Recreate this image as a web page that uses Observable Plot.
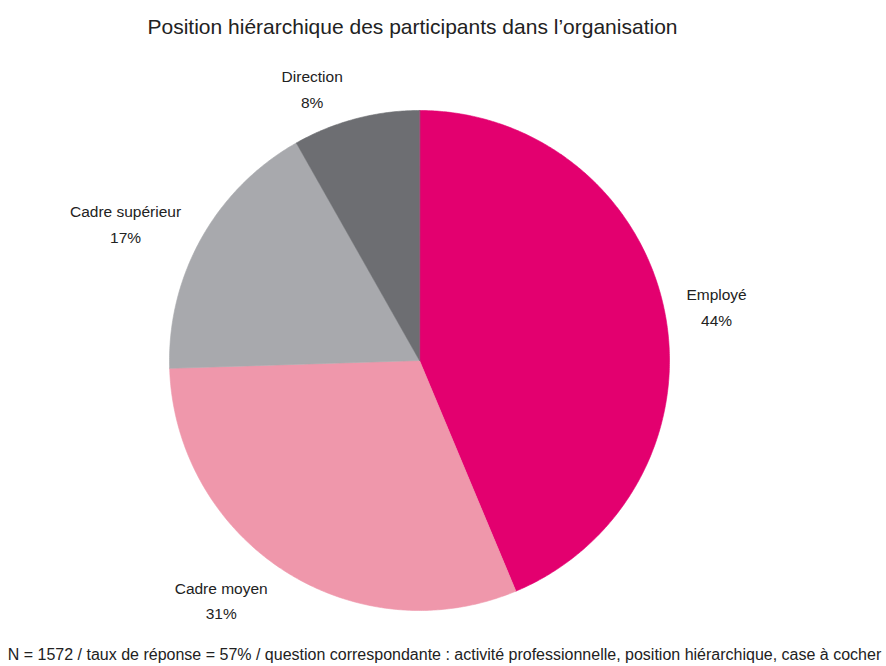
<!DOCTYPE html>
<html><head><meta charset="utf-8">
<script src="https://cdn.jsdelivr.net/npm/d3@7"></script>
<script src="https://cdn.jsdelivr.net/npm/@observablehq/plot@0.6"></script>
<style>
body{margin:0;background:#fff;font-family:"Liberation Sans",Arial,sans-serif;color:#222;}
#wrap{position:relative;width:886px;height:666px;overflow:hidden;}
#title{position:absolute;top:15px;left:0;width:825px;text-align:center;font-size:21px;}
#chart{position:absolute;top:60px;left:0;}
#caption{position:absolute;top:646px;left:0;width:889px;text-align:center;font-size:16px;white-space:nowrap;}
</style></head><body>
<div id="wrap">
<div id="title">Position hiérarchique des participants dans l’organisation</div>
<div id="chart"></div>
<div id="caption">N = 1572 / taux de réponse = 57% / question correspondante : activité professionnelle, position hiérarchique, case à cocher</div>
</div>
<script>
const categories = ["Employé", "Cadre moyen", "Cadre supérieur", "Direction"];
const values = [43.7, 30.8, 17.3, 8.2];
const percentLabels = ["44%", "31%", "17%", "8%"];
const colors = ["#E3006F", "#EF97AB", "#A8A9AD", "#6D6E72"];

const W = 886, H = 580;
const frame = 500, mL = 169, mT = 50;
const k = frame / 2; // px per unit radius
const total = d3.sum(values);
const toRad = v => v / total * 2 * Math.PI;

// slice polygons in unit coordinates (screen orientation: y down, clockwise from top)
let acc = 0;
const slices = categories.map((c, i) => {
  const a0 = toRad(acc); acc += values[i]; const a1 = toRad(acc);
  const n = Math.max(2, Math.ceil((a1 - a0) / (Math.PI / 360)));
  const ring = [[0, 0]];
  for (let j = 0; j <= n; j++) {
    const a = a0 + (a1 - a0) * j / n;
    ring.push([Math.sin(a), -Math.cos(a)]);
  }
  ring.push([0, 0]);
  return {type: "Feature", properties: {category: c, mid: (a0 + a1) / 2}, geometry: {type: "Polygon", coordinates: [ring]}};
});

const circleRing = d3.range(0, 361, 1).map(d => [Math.sin(d * Math.PI / 180), -Math.cos(d * Math.PI / 180)]);
const domain = {type: "Feature", properties: {}, geometry: {type: "Polygon", coordinates: [circleRing]}};

// label placement: outside the pie, box edge offset
const fontSize = 15.5;
const ctx = document.createElement("canvas").getContext("2d");
ctx.font = fontSize + "px 'Liberation Sans', Arial, sans-serif";
const Rl = 262, boxH = 42, gap = 10;
const labels = slices.map((s, i) => {
  const a = s.properties.mid;
  const w = Math.max(ctx.measureText(categories[i]).width, ctx.measureText(percentLabels[i]).width);
  const sx = Math.sin(a), cy = -Math.cos(a);
  const px = sx * Rl + Math.sign(sx) * (w / 2 + gap);
  const py = cy * Rl + cy * boxH / 2;
  return {x: px / k, y: py / k, text: categories[i] + "\n" + percentLabels[i]};
});

const chart = Plot.plot({
  width: W, height: H,
  marginLeft: mL, marginRight: W - mL - frame, marginTop: mT, marginBottom: H - mT - frame,
  projection: {type: "identity", domain, clip: false},
  color: {domain: categories, range: colors},
  style: {fontFamily: "'Liberation Sans', Arial, sans-serif", background: "white"},
  marks: [
    Plot.geo(slices, {fill: d => d.properties.category, stroke: d => d.properties.category, strokeWidth: 0.6}),
    Plot.text(labels, {x: "x", y: "y", text: "text", fontSize, lineHeight: 1.65, fill: "#222", textAnchor: "middle"})
  ]
});
document.getElementById("chart").appendChild(chart);
</script>
</body></html>
